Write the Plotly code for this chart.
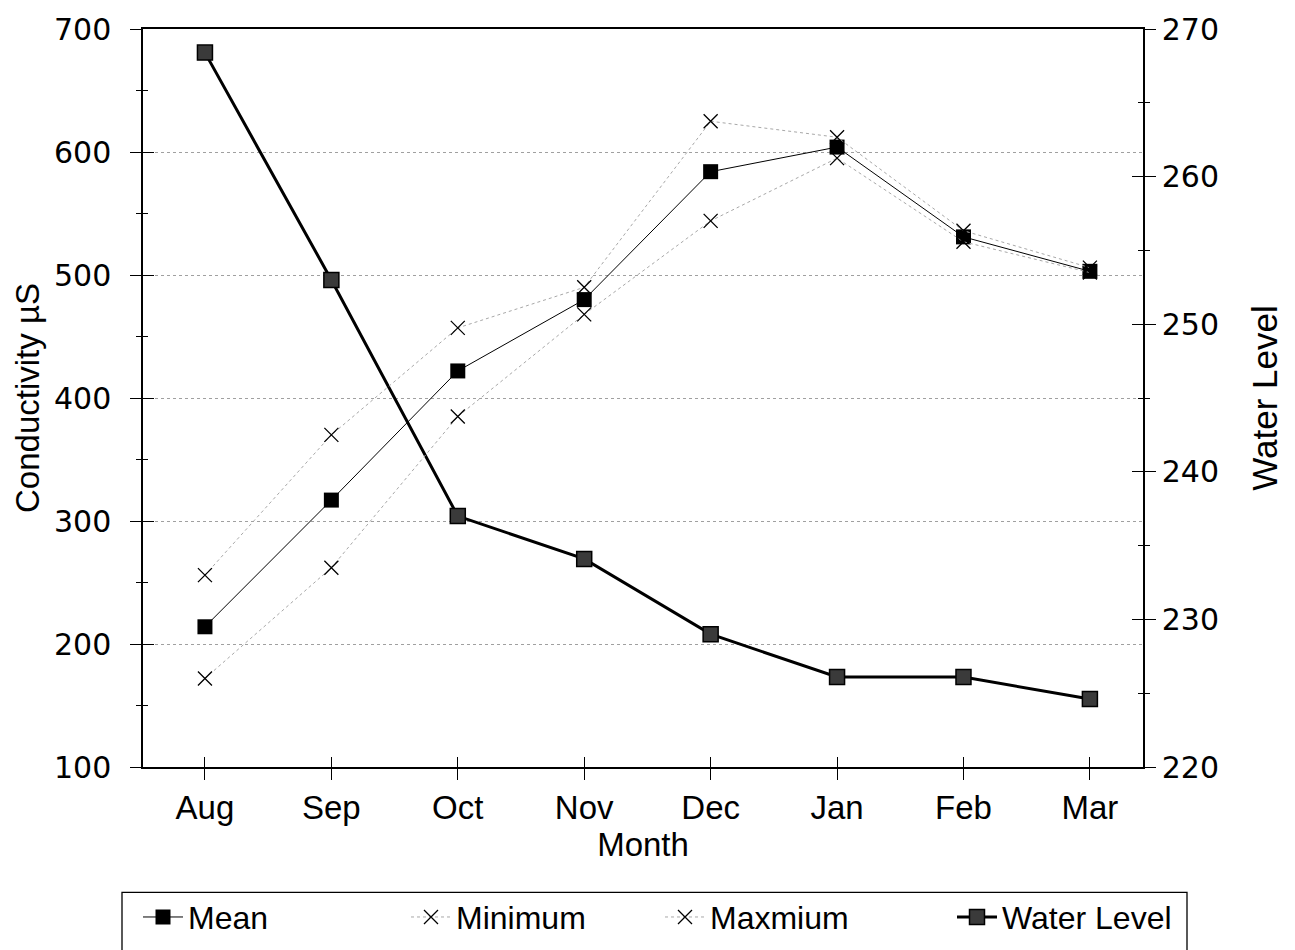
import plotly.graph_objects as go

months = ["Aug", "Sep", "Oct", "Nov", "Dec", "Jan", "Feb", "Mar"]
mean_cond = [214, 317, 422, 480, 584, 604, 531, 503]
min_cond = [172, 262, 385, 468, 544, 595, 527, 502]
max_cond = [256, 370, 457, 490, 625, 612, 536, 506]
water_level = [268.4, 253.0, 237.0, 234.1, 229.0, 226.1, 226.1, 224.6]

left_ticks = [100, 200, 300, 400, 500, 600, 700]
right_ticks = [220, 230, 240, 250, 260, 270]

FONT = "Liberation Sans, Arial, sans-serif"
TICKFONT = "DejaVu Sans, Liberation Sans, sans-serif"

fig = go.Figure()

fig.add_trace(go.Scatter(
    x=months, y=mean_cond, name="Mean", mode="lines+markers",
    line=dict(color="black", width=1),
    marker=dict(symbol="square", size=15, color="black"),
    legend="legend",
))
fig.add_trace(go.Scatter(
    x=months, y=min_cond, name="Minimum", mode="lines+markers",
    line=dict(color="#a8a8a8", width=1, dash="dot"),
    marker=dict(symbol="x-thin", size=14, line=dict(color="black", width=1.3)),
    xaxis="x2", yaxis="y3",
    legend="legend2",
))
fig.add_trace(go.Scatter(
    x=months, y=max_cond, name="Maxmium", mode="lines+markers",
    line=dict(color="#a8a8a8", width=1, dash="dot"),
    marker=dict(symbol="x-thin", size=14, line=dict(color="black", width=1.3)),
    xaxis="x2", yaxis="y3",
    legend="legend3",
))
fig.add_trace(go.Scatter(
    x=months, y=water_level, name="Water Level", mode="lines+markers",
    line=dict(color="black", width=3),
    marker=dict(symbol="square", size=15, color="#3a3a3a", line=dict(color="black", width=1.5)),
    yaxis="y2",
    legend="legend4",
))
# carrier for the inward-pointing ticks of the right axis (draws nothing)
fig.add_trace(go.Scatter(
    x=months, y=water_level, mode="none", yaxis="y4",
    showlegend=False, hoverinfo="skip",
))

xr = [-0.49, 7.42]
axis_common = dict(showline=True, linecolor="black", linewidth=1.5, zeroline=False,
                   automargin=False, ticklabeloverflow="allow")
overlay_common = dict(showticklabels=False, showgrid=False, showline=False, zeroline=False,
                      automargin=False, tickcolor="black", tickwidth=1.3)

legend_common = dict(
    orientation="h", yanchor="middle", y=-0.2035, xanchor="left",
    bgcolor="rgba(0,0,0,0)", font=dict(family=FONT, size=32, color="black"),
    itemwidth=40,
)

fig.update_layout(
    width=1295, height=950,
    margin=dict(l=135, r=160, t=21, b=191),
    paper_bgcolor="white", plot_bgcolor="white",
    font=dict(family=FONT, color="black"),
    xaxis=dict(
        type="category", range=xr, **axis_common, mirror=True,
        ticks="outside", ticklen=11, tickwidth=1.3, tickcolor="black",
        showgrid=False,
        tickfont=dict(family=FONT, size=33),
        title=dict(text="Month", font=dict(family=FONT, size=33), standoff=7),
    ),
    xaxis2=dict(
        overlaying="x", anchor="y", side="bottom", type="category", range=xr,
        ticks="inside", ticklen=10, **overlay_common,
    ),
    yaxis=dict(
        range=[100, 700], tickvals=left_ticks, **axis_common,
        ticks="outside", ticklen=11, tickwidth=1.3, tickcolor="black",
        minor=dict(dtick=50, ticks="outside", ticklen=5, tickcolor="black", showgrid=False),
        showgrid=True, gridcolor="#a0a0a0", griddash="dot", gridwidth=1,
        tickfont=dict(family=TICKFONT, size=30),
        ticklabelstandoff=13,
        title=dict(text="Conductivity µS", font=dict(family=FONT, size=33), standoff=4),
    ),
    yaxis3=dict(
        overlaying="y", anchor="x2", side="left", range=[100, 700], tickvals=left_ticks,
        ticks="inside", ticklen=11,
        minor=dict(dtick=50, ticks="inside", ticklen=5, tickcolor="black", showgrid=False),
        **overlay_common,
    ),
    yaxis2=dict(
        overlaying="y", anchor="x", side="right", range=[220, 270], tickvals=right_ticks,
        **axis_common,
        ticks="outside", ticklen=11, tickwidth=1.3, tickcolor="black",
        minor=dict(dtick=5, ticks="outside", ticklen=5, tickcolor="black", showgrid=False),
        showgrid=False,
        tickfont=dict(family=TICKFONT, size=30),
        ticklabelstandoff=0,
        title=dict(text="Water Level", font=dict(family=FONT, size=35), standoff=34),
    ),
    yaxis4=dict(
        overlaying="y", anchor="x", side="right", range=[220, 270], tickvals=right_ticks,
        ticks="inside", ticklen=11,
        minor=dict(dtick=5, ticks="inside", ticklen=5, tickcolor="black", showgrid=False),
        **overlay_common,
    ),
    legend=dict(**legend_common, x=-0.005),
    legend2=dict(**legend_common, x=0.263),
    legend3=dict(**legend_common, x=0.517),
    legend4=dict(**legend_common, x=0.809),
    showlegend=True,
    shapes=[dict(
        type="rect", xref="paper", yref="paper",
        x0=-0.021, x1=1.044, y0=-0.28, y1=-0.1698,
        line=dict(color="black", width=1.3), fillcolor="rgba(0,0,0,0)", layer="below",
    )],
)

fig.write_html("out.html")
